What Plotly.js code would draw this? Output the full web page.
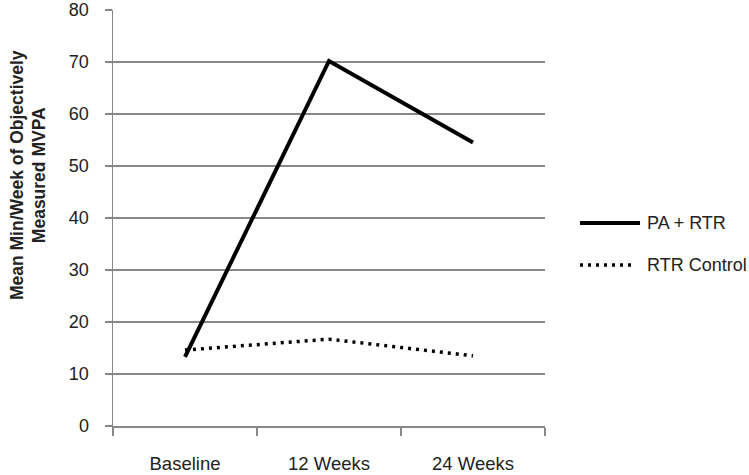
<!DOCTYPE html>
<html>
<head>
<meta charset="utf-8">
<script src="https://cdn.plot.ly/plotly-3.0.1.min.js"></script>
<style>html,body{margin:0;padding:0;background:#fff;}</style>
</head>
<body>
<div id="chart" style="width:749px;height:475px;"></div>
<script>
const categories = ["Baseline", "12 Weeks", "24 Weeks"];
const paRtr = [13.3, 70.2, 54.5];
const rtrControl = [14.6, 16.7, 13.5];
const seriesNames = ["PA + RTR", "RTR Control"];
const yTitle = "Mean Min/Week of Objectively<br>Measured MVPA";

const FONT = "Liberation Sans, Arial, sans-serif";
const solidLine = {color: "#000", width: 4};
const dotLine = {color: "#000", width: 3.5, dash: "3px,5px"};
const traces = [
  {x: categories, y: paRtr, name: seriesNames[0], type: "scatter", mode: "lines", line: solidLine},
  {x: categories, y: rtrControl, name: seriesNames[1], type: "scatter", mode: "lines", line: dotLine}
];
// legend drawn as paper-space samples + labels
const legY = [0.488, 0.387];
const shapes = [
  {type: "line", xref: "paper", yref: "paper", x0: 1.081, x1: 1.22, y0: legY[0], y1: legY[0], line: solidLine},
  {type: "line", xref: "paper", yref: "paper", x0: 1.081, x1: 1.21, y0: legY[1], y1: legY[1], line: dotLine}
];
const annotations = [
  {text: "<b>" + yTitle + "</b>", xref: "paper", yref: "paper",
   x: -0.197, y: 0.603, xanchor: "center", yanchor: "middle",
   textangle: -90, showarrow: false,
   font: {size: 17.5, family: FONT, color: "#222"}},
  {text: seriesNames[0], xref: "paper", yref: "paper", x: 1.232, y: legY[0],
   xanchor: "left", yanchor: "middle", showarrow: false,
   font: {size: 18, family: FONT, color: "#222"}},
  {text: seriesNames[1], xref: "paper", yref: "paper", x: 1.232, y: legY[1],
   xanchor: "left", yanchor: "middle", showarrow: false,
   font: {size: 18, family: FONT, color: "#222"}}
];
const layout = {
  width: 749, height: 475,
  margin: {l: 113, r: 204, t: 10, b: 49},
  paper_bgcolor: "#fff", plot_bgcolor: "#fff",
  font: {family: FONT, color: "#222", size: 16},
  showlegend: false,
  xaxis: {type: "category", range: [-0.5, 2.5], tickson: "boundaries",
          ticks: "outside", ticklen: 8, tickcolor: "#888", tickwidth: 1.5,
          showline: true, linecolor: "#888", linewidth: 1.5,
          showgrid: false, zeroline: false, ticklabelstandoff: 20,
          tickfont: {size: 18.5, family: FONT, color: "#222"}},
  yaxis: {range: [0, 80], dtick: 10, ticks: "outside", ticklen: 7,
          tickcolor: "#888", tickwidth: 1.5,
          showline: true, linecolor: "#888", linewidth: 1.5,
          showgrid: true, gridcolor: "#888", gridwidth: 1.5, zeroline: false,
          ticklabelstandoff: 12,
          tickfont: {size: 18, family: FONT, color: "#222"}},
  shapes: shapes,
  annotations: annotations
};
Plotly.newPlot("chart", traces, layout, {displayModeBar: false, staticPlot: true});
</script>
</body>
</html>
